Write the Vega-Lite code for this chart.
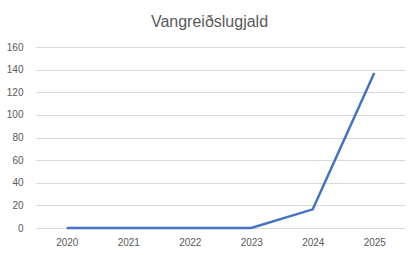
{
  "$schema": "https://vega.github.io/schema/vega-lite/v6.json",
  "width": 369,
  "height": 181,
  "autosize": {"type": "none"},
  "padding": {"left": 36, "top": 47, "right": 13, "bottom": 27},
  "background": "white",
  "title": {
    "text": "Vangreiðslugjald",
    "font": "Liberation Sans",
    "fontSize": 16,
    "fontWeight": "normal",
    "color": "#595959",
    "anchor": "middle",
    "offset": 12,
    "dx": -11
  },
  "config": {"view": {"stroke": null}},
  "data": {
    "values": [
      {"year": "2020", "value": 0},
      {"year": "2021", "value": 0},
      {"year": "2022", "value": 0},
      {"year": "2023", "value": 0},
      {"year": "2024", "value": 16.5},
      {"year": "2025", "value": 137}
    ]
  },
  "mark": {"type": "line", "color": "#4472C4", "strokeWidth": 2.5},
  "encoding": {
    "x": {
      "field": "year",
      "type": "ordinal",
      "scale": {"type": "point", "padding": 0.5},
      "axis": {
        "title": null,
        "labelAngle": 0,
        "domain": false,
        "ticks": false,
        "grid": false,
        "labelFont": "Liberation Sans",
        "labelFontSize": 10,
        "labelColor": "#595959",
        "labelPadding": 9
      }
    },
    "y": {
      "field": "value",
      "type": "quantitative",
      "scale": {"domain": [0, 160], "nice": false},
      "axis": {
        "title": null,
        "values": [0, 20, 40, 60, 80, 100, 120, 140, 160],
        "domain": false,
        "ticks": false,
        "gridColor": "#D9D9D9",
        "gridWidth": 1,
        "labelFont": "Liberation Sans",
        "labelFontSize": 10,
        "labelColor": "#595959",
        "labelPadding": 13
      }
    }
  }
}
